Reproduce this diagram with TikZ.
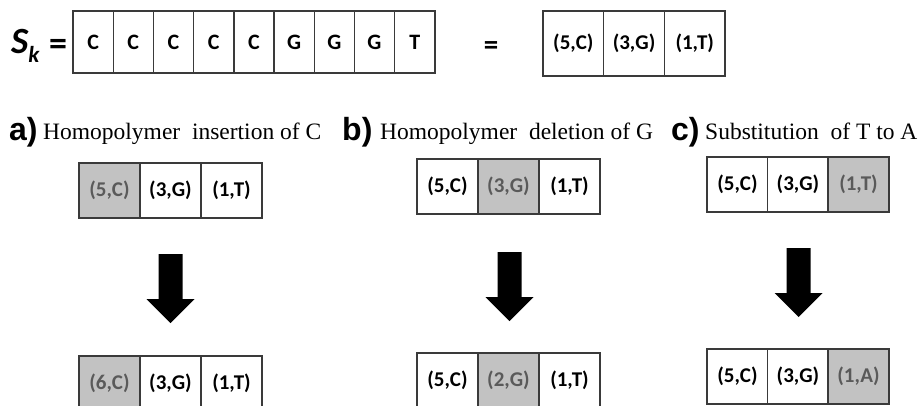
\documentclass[tikz,border=0pt]{standalone}
\usepackage{fontspec}
\setmainfont{Liberation Serif}
\newfontfamily\carl{Carlito}
\newfontfamily\arl{Liberation Sans}
\definecolor{bordercol}{HTML}{3A3A3A}
\definecolor{hlgray}{HTML}{C2C2C2}
\definecolor{hltext}{HTML}{5A5A5A}
\tikzset{
  cell/.style={draw=bordercol, line width=1.4pt, fill=white, inner sep=0pt, outer sep=0pt,
    minimum height=55pt, minimum width=61pt, anchor=north west,
    font=\carl\bfseries\fontsize{21}{24}\selectfont},
  hl/.style={fill=hlgray, text=hltext},
  ttl/.style={anchor=base west, inner sep=0pt, font=\fontsize{23.5}{28}\selectfont},
  lbl/.style={anchor=base west, inner sep=0pt, font=\arl\bfseries\fontsize{32}{36}\selectfont},
}
\newcommand\mydownarrow[3]{% center x, top y, tip y
  \fill[black] (#1-12,#2) -- (#1+12,#2) -- (#1+12,#3-24) -- (#1+24,#3-24) -- (#1,#3)
    -- (#1-24,#3-24) -- (#1-12,#3-24) -- cycle;}
\begin{document}
\begin{tikzpicture}[x=1pt,y=-1pt]
\useasboundingbox (0,0) rectangle (921,405);
\clip (0,0) rectangle (921,405);
\fill[white] (0,0) rectangle (921,405);
% top row
\node[anchor=base west, inner sep=0pt, font=\carl\bfseries\itshape\fontsize{37}{40}\selectfont] (sk) at (11,53) {S\raisebox{-9pt}{\fontsize{23}{24}\selectfont k}};
\node[anchor=base, inner sep=0pt, font=\carl\bfseries\fontsize{36}{36}\selectfont] (eq1) at (58,55) {=};
\foreach \t [count=\i] in {C,C,C,C,C,G,G,G,T}
  \node[cell, minimum width=40.2pt, minimum height=62pt, font=\carl\bfseries\fontsize{22}{24}\selectfont] (s\i) at ({73+(\i-1)*40.2},11) {\t};
\node[anchor=base, inner sep=0pt, font=\carl\bfseries\fontsize{29}{30}\selectfont] (eq2) at (491,54) {=};
\node[cell, minimum width=60.7pt, minimum height=65pt] (r1) at (543,11) {(5,C)};
\node[cell, minimum width=60.7pt, minimum height=65pt] (r2) at (603.7,11) {(3,G)};
\node[cell, minimum width=60.7pt, minimum height=65pt] (r3) at (664.4,11) {(1,T)};
% titles
\node[lbl] (la) at (9,140) {a)};
\node[ttl] (ta) at (43,139) {Homopolymer\hspace{0.25em} insertion of C};
\node[lbl] (lb) at (342,140) {b)};
\node[ttl] (tb) at (380,139) {Homopolymer\hspace{0.25em} deletion of G};
\node[lbl] (lc) at (671,140) {c)};
\node[ttl] (tc) at (705,139) {Substitution\hspace{0.25em} of T to A};
% a
\node[cell, hl] (a1) at (79,163) {(5,C)};
\node[cell] (a2) at (140,163) {(3,G)};
\node[cell] (a3) at (201,163) {(1,T)};
\node[cell, hl] (a4) at (79,356) {(6,C)};
\node[cell] (a5) at (140,356) {(3,G)};
\node[cell] (a6) at (201,356) {(1,T)};
\mydownarrow{170.5}{254}{323}
% b
\node[cell] (b1) at (417,159) {(5,C)};
\node[cell, hl] (b2) at (478,159) {(3,G)};
\node[cell] (b3) at (539,159) {(1,T)};
\node[cell] (b4) at (417,353) {(5,C)};
\node[cell, hl] (b5) at (478,353) {(2,G)};
\node[cell] (b6) at (539,353) {(1,T)};
\mydownarrow{509.5}{252}{321}
% c
\node[cell] (c1) at (707,157) {(5,C)};
\node[cell] (c2) at (767.5,157) {(3,G)};
\node[cell, hl] (c3) at (828,157) {(1,T)};
\node[cell] (c4) at (707,349) {(5,C)};
\node[cell] (c5) at (767.5,349) {(3,G)};
\node[cell, hl] (c6) at (828,349) {(1,A)};
\mydownarrow{798.5}{248}{317}
\end{tikzpicture}
\end{document}
